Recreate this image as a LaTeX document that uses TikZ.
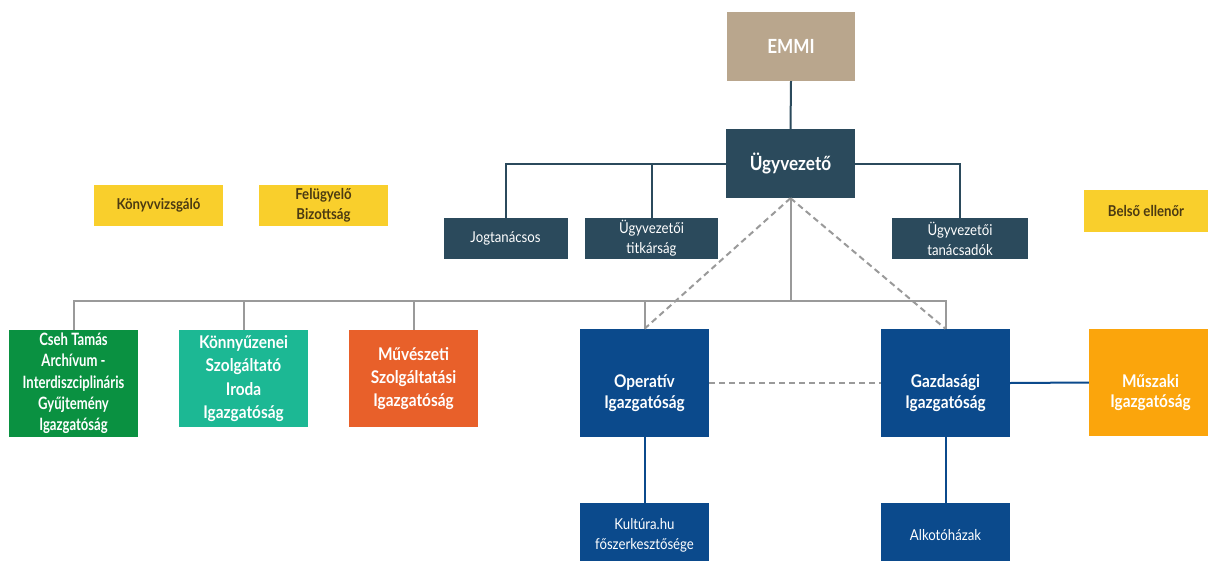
\documentclass[tikz,border=0pt]{standalone}
\usepackage{fontspec}
\setmainfont{Lato}[FakeStretch=0.88]
\newfontfamily\narrowlato{Lato}[FakeStretch=0.77]
\newcommand\pushdown[1]{\rule{0pt}{#1}}
\definecolor{tan}{HTML}{B9A68D}
\definecolor{dteal}{HTML}{2B4A5C}
\definecolor{dblue}{HTML}{0B4A8C}
\definecolor{cgreen}{HTML}{0A9141}
\definecolor{cteal}{HTML}{1CB894}
\definecolor{corange}{HTML}{E8602A}
\definecolor{camber}{HTML}{FBA50C}
\definecolor{cyellow}{HTML}{F9CF2C}
\definecolor{ybrown}{HTML}{4B3A12}
\definecolor{lgray}{HTML}{9A9A9A}
\tikzset{
  box/.style={draw=none, inner sep=2pt, align=center, text=white},
  bigbox/.style={box, font=\bfseries\fontsize{17.5}{20.7}\selectfont},
  widebox/.style={box, font=\bfseries\fontsize{17.5}{23.3}\selectfont},
  topbox/.style={box, font=\bfseries\fontsize{19.5}{23}\selectfont},
  smallbox/.style={box, fill=dteal, font=\fontsize{15}{20}\selectfont},
  ybox/.style={box, fill=cyellow, text=ybrown, font=\bfseries\fontsize{15}{20}\selectfont},
  sz/.style n args={2}{minimum width=#1pt, minimum height=#2pt},
  darkline/.style={draw=dteal, line width=2pt},
  grayline/.style={draw=lgray, line width=2pt},
  dashline/.style={draw=lgray, line width=2pt, dash pattern=on 6pt off 4pt},
  blueline/.style={draw=dblue, line width=2pt},
}
\begin{document}
\begin{tikzpicture}[x=1pt,y=-1pt]
\useasboundingbox (0,0) rectangle (1208,560);
\clip (0,0) rectangle (1208,560);
\fill[white] (0,0) rectangle (1208,560);
% nodes
\node[topbox, fill=tan, sz={128}{69}] (emmi) at (791,46.5) {EMMI};
\node[topbox, fill=dteal, sz={129}{69}] (ugy) at (790.5,163.5) {Ügyvezető};
\node[smallbox, sz={124}{41}] (jog) at (505.5,238.5) {Jogtanácsos};
\node[smallbox, sz={133}{41}] (titk) at (651.5,238.5) {Ügyvezetői\\titkárság};
\node[smallbox, sz={136}{41}] (tan) at (960,238.5) {Ügyvezetői\\tanácsadók};
\node[ybox, sz={129}{41}] (konyv) at (158.5,205.5) {Könyvvizsgáló};
\node[ybox, sz={129}{41}] (felugy) at (323.5,205.5) {Felügyelő\\Bizottság};
\node[ybox, sz={124}{42}] (belso) at (1146,211) {Belső ellenőr};
\node[box, font=\narrowlato\bfseries\fontsize{17}{21.3}\selectfont, fill=cgreen, sz={129}{107}] (cseh) at (73.5,383.5) {Cseh Tamás\\Archívum -\\Interdiszciplináris\\Gyűjtemény\\Igazgatóság};
\node[widebox, fill=cteal, sz={129}{97}] (konny) at (243.5,378.5) {Könnyűzenei\\Szolgáltató\\Iroda\\Igazgatóság};
\node[widebox, fill=corange, sz={129}{97}] (muv) at (413.5,378.5) {Művészeti\\Szolgáltatási\\Igazgatóság};
\node[bigbox, fill=dblue, sz={129}{108}] (oper) at (644.5,383) {\pushdown{33pt}Operatív\\Igazgatóság};
\node[bigbox, fill=dblue, sz={129}{108}] (gazd) at (945.5,383) {\pushdown{33pt}Gazdasági\\Igazgatóság};
\node[bigbox, fill=camber, sz={123}{107}] (musz) at (1150.5,382.5) {\pushdown{33pt}Műszaki\\Igazgatóság};
\node[smallbox, fill=dblue, sz={129}{64}] (kult) at (644.5,535) {Kultúra.hu\\főszerkesztősége};
\node[smallbox, fill=dblue, sz={129}{64}] (alko) at (945.5,535) {Alkotóházak};
\coordinate (hub) at (790.5,301);
% connectors
\draw[darkline] (emmi.south) -- (ugy.north);
\draw[darkline] (ugy.west) -| (jog.north);
\draw[darkline] (titk.north) -- (titk.north |- ugy.west);
\draw[darkline] (ugy.east) -| (tan.north);
\draw[grayline] (ugy.south) -- (hub);
\draw[grayline] (hub) -| (cseh.north);
\draw[grayline] (hub) -| (konny.north);
\draw[grayline] (hub) -| (muv.north);
\draw[grayline] (hub) -| (oper.north);
\draw[grayline] (hub) -| (gazd.north);
\draw[dashline] (ugy.south) -- (oper.north);
\draw[dashline] (ugy.south) -- (gazd.north);
\draw[dashline] (oper.east) -- (gazd.west);
\draw[blueline] (gazd.east) -- (musz.west);
\draw[blueline] (oper.south) -- (kult.north);
\draw[blueline] (gazd.south) -- (alko.north);
\end{tikzpicture}
\end{document}
